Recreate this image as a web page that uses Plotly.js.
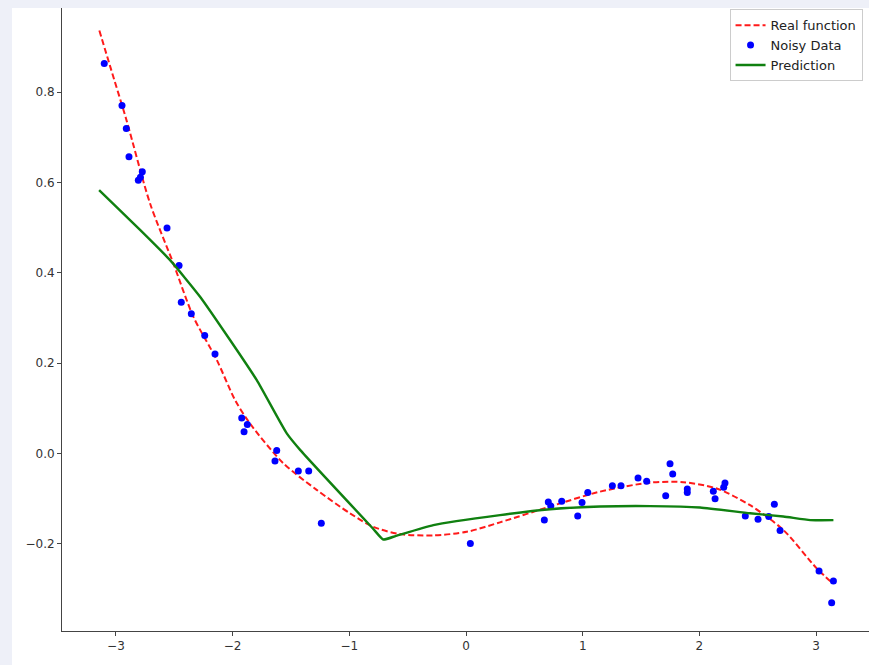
<!DOCTYPE html>
<html>
<head>
<meta charset="utf-8">
<script src="https://cdn.plot.ly/plotly-3.0.1.min.js"></script>
<style>html,body{margin:0;padding:0;background:#eef0f8;}#chart{width:869px;height:665px;}</style>
</head>
<body>
<div id="chart"></div>
<script>
// Real function (red dashed)
const realX = [-3.142, -3.05, -2.908, -2.708, -2.508, -2.337, -2.136, -1.979, -1.851, -1.566, -1.28, -0.994, -0.794, -0.566, -0.28, 0.006, 0.291, 0.72, 1.148, 1.577, 1.862, 2.148, 2.434, 2.719, 3.005, 3.142];
const realY = [0.937, 0.858, 0.737, 0.554, 0.421, 0.303, 0.207, 0.118, 0.066, -0.022, -0.081, -0.133, -0.163, -0.179, -0.182, -0.174, -0.153, -0.118, -0.085, -0.065, -0.064, -0.078, -0.115, -0.170, -0.255, -0.288];

// Noisy data (blue dots)
const noisyX = [-3.100, -2.948, -2.911, -2.888, -2.774, -2.790, -2.808, -2.562, -2.459, -2.440, -2.354, -2.239, -2.151, -1.922, -1.874, -1.902, -1.622, -1.637, -1.437, -1.348, -1.240, 0.037, 0.671, 0.705, 0.726, 0.820, 0.957, 0.994, 1.043, 1.254, 1.328, 1.474, 1.548, 1.711, 1.748, 1.771, 1.896, 1.896, 2.119, 2.134, 2.208, 2.219, 2.393, 2.502, 2.594, 2.642, 2.691, 3.025, 3.148, 3.133];
const noisyY = [0.864, 0.771, 0.720, 0.657, 0.624, 0.612, 0.605, 0.499, 0.416, 0.335, 0.309, 0.261, 0.220, 0.078, 0.064, 0.048, 0.006, -0.017, -0.039, -0.039, -0.155, -0.200, -0.148, -0.108, -0.117, -0.106, -0.139, -0.109, -0.087, -0.072, -0.072, -0.055, -0.062, -0.094, -0.023, -0.046, -0.079, -0.087, -0.084, -0.101, -0.075, -0.066, -0.139, -0.146, -0.140, -0.113, -0.171, -0.261, -0.283, -0.331];

// Prediction (green)
const predX = [-3.144, -2.793, -2.536, -2.279, -2.022, -1.793, -1.536, -1.42, -0.8, -0.709, -0.6, -0.28, 0.291, 0.72, 1.148, 1.577, 2.005, 2.434, 2.719, 2.95, 3.148];
const predY = [0.583, 0.495, 0.428, 0.347, 0.251, 0.162, 0.044, 0.007, -0.166, -0.191, -0.183, -0.159, -0.137, -0.124, -0.118, -0.117, -0.120, -0.133, -0.140, -0.148, -0.148];

const xTicks = [-3, -2, -1, 0, 1, 2, 3];
const yTicks = [-0.2, 0.0, 0.2, 0.4, 0.6, 0.8];

const minus = s => s.replace('-', '\u2212');

const traces = [
  {x: realX, y: realY, mode: 'lines', name: 'Real function',
   line: {color: '#ff1a1a', width: 2, dash: '6px,3px', shape: 'spline', smoothing: 0.8}},
  {x: noisyX, y: noisyY, mode: 'markers', name: 'Noisy Data',
   marker: {color: '#0000ff', size: 7}},
  {x: predX, y: predY, mode: 'lines', name: 'Prediction',
   line: {color: '#108010', width: 2.4, shape: 'spline', smoothing: 0.5}}
];

const axisFont = {family: 'DejaVu Sans, sans-serif', size: 12, color: '#333'};

const layout = {
  width: 869, height: 665,
  paper_bgcolor: '#eef0f8',
  plot_bgcolor: '#ffffff',
  margin: {l: 62, r: 0, t: 8, b: 34, pad: 0},
  showlegend: true,
  shapes: [{type: 'rect', xref: 'paper', yref: 'paper', x0: -0.062, x1: 1.0, y0: -0.0546, y1: 1.0,
            fillcolor: '#ffffff', line: {width: 0}, layer: 'below'}],
  xaxis: {range: [-3.462, 3.453], tickvals: xTicks, ticktext: xTicks.map(v => minus(String(v))),
          showgrid: false, zeroline: false, showline: true, linecolor: '#444', linewidth: 1,
          ticks: 'outside', ticklen: 4, tickcolor: '#444', tickfont: axisFont},
  yaxis: {range: [-0.3938, 0.9868], tickvals: yTicks, ticktext: yTicks.map(v => minus(v.toFixed(1))),
          showgrid: false, zeroline: false, showline: true, linecolor: '#444', linewidth: 1,
          ticks: 'outside', ticklen: 4, tickcolor: '#444', tickfont: axisFont},
  legend: {x: 0.992, y: 0.998, xanchor: 'right', yanchor: 'top', bgcolor: '#ffffff',
           bordercolor: '#cccccc', borderwidth: 1,
           font: {family: 'DejaVu Sans, sans-serif', size: 13, color: '#222'}}
};

Plotly.newPlot('chart', traces, layout, {displayModeBar: false, staticPlot: true});
</script>
</body>
</html>
